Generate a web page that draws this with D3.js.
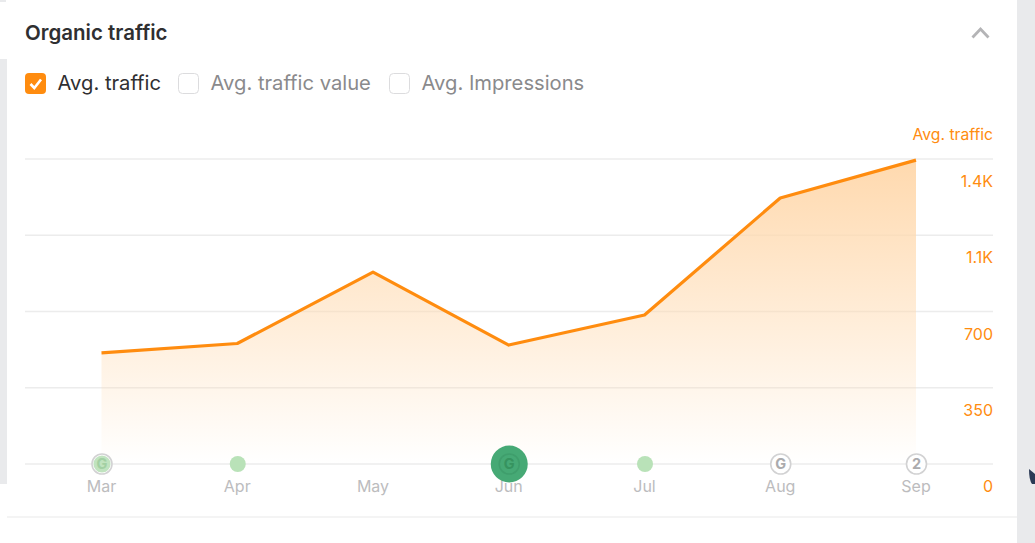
<!DOCTYPE html>
<html>
<head>
<meta charset="utf-8">
<style>
  html, body { margin: 0; padding: 0; background: #fff; }
  svg { display: block; }
  text { font-family: Inter, "Noto Sans", sans-serif; }
</style>
<script src="https://cdn.jsdelivr.net/npm/d3@7"></script>
</head>
<body>
<svg id="chart" width="1035" height="543"></svg>
<script>
// Monthly average organic traffic
const months = ["Mar", "Apr", "May", "Jun", "Jul", "Aug", "Sep"];
const avgTraffic = [510, 553, 881, 546, 684, 1221, 1395];
const tickValues = [0, 350, 700, 1050, 1400];
const tickLabels = ["0", "350", "700", "1.1K", "1.4K"];
const seriesOptions = ["Avg. traffic", "Avg. traffic value", "Avg. Impressions"];
const seriesChecked = [true, false, false];
const optionX = [25, 178, 389];
// Algorithm-update markers along the baseline
const markerKinds = ["ringG", "dot", null, "bigG", "dot", "outlineG", "outline2"];

const ORANGE = "#ff8c0f";
const svg = d3.select("#chart");

// Page chrome around the card
svg.append("rect").attr("x", 0).attr("y", 59).attr("width", 7).attr("height", 425).attr("fill", "#e9eaec");
svg.append("rect").attr("x", 0).attr("y", 0).attr("width", 6).attr("height", 2).attr("fill", "#e9eaec");
svg.append("rect").attr("x", 1017).attr("y", 0).attr("width", 18).attr("height", 543).attr("fill", "#e9eaec");
svg.append("path").attr("d", "M1029 469 L1035 474 V484 H1032 Q1029 480 1029 469 Z").attr("fill", "#2b3a55");
svg.append("line").attr("x1", 7).attr("x2", 1017).attr("y1", 517).attr("y2", 517)
  .attr("stroke", "#f0f0f1").attr("stroke-width", 1.5);

// Header
svg.append("text").attr("x", 25).attr("y", 39.5).attr("font-size", 20.5).attr("font-weight", 600)
  .attr("fill", "#2f2f31").text("Organic traffic");
svg.append("path").attr("d", "M972.5 37.5 L980.5 29 L988.5 37.5").attr("fill", "none")
  .attr("stroke", "#b4b4b6").attr("stroke-width", 2.8);

// Series toggles
const opts = svg.selectAll("g.opt").data(seriesOptions).join("g").attr("class", "opt")
  .attr("transform", (d, i) => `translate(${optionX[i]},73)`);
opts.append("rect").attr("x", (d, i) => i ? 0.5 : 0).attr("y", (d, i) => i ? 0.5 : 0)
  .attr("width", (d, i) => i ? 20 : 21).attr("height", (d, i) => i ? 20 : 21).attr("rx", 4)
  .attr("fill", (d, i) => seriesChecked[i] ? ORANGE : "#fff")
  .attr("stroke", (d, i) => seriesChecked[i] ? "none" : "#dcdcde");
opts.filter((d, i) => seriesChecked[i]).append("path")
  .attr("d", "M5.5 11 L9.3 15 L16 6.5").attr("fill", "none").attr("stroke", "#fff").attr("stroke-width", 2.6);
opts.append("text").attr("x", 32.5).attr("y", 17).attr("font-size", 20.2)
  .attr("fill", (d, i) => seriesChecked[i] ? "#2f2f31" : "#8a8a8c").text(d => d);

// Scales
const x = d3.scalePoint().domain(months).range([101.5, 916]);
const y = d3.scaleLinear().domain([0, 1400]).range([464, 159]);

// Area gradient
const defs = svg.append("defs");
const grad = defs.append("linearGradient").attr("id", "fade").attr("gradientUnits", "userSpaceOnUse")
  .attr("x1", 0).attr("x2", 0).attr("y1", y(1400)).attr("y2", y(0));
grad.append("stop").attr("offset", 0).attr("stop-color", "#ffd9ae");
grad.append("stop").attr("offset", 1).attr("stop-color", "#ffd9ae").attr("stop-opacity", 0);

// Grid lines
svg.selectAll("line.grid").data(tickValues).join("line").attr("class", "grid")
  .attr("x1", 25).attr("x2", 993).attr("y1", d => y(d)).attr("y2", d => y(d))
  .attr("stroke", "#ececec").attr("stroke-width", 1.5);

// Area and line
const points = months.map((m, i) => [m, avgTraffic[i]]);
svg.append("path").datum(points).attr("fill", "url(#fade)")
  .attr("d", d3.area().x(d => x(d[0])).y0(y(0)).y1(d => y(d[1])));
svg.append("path").datum(points).attr("fill", "none").attr("stroke", ORANGE).attr("stroke-width", 3.2)
  .attr("stroke-linejoin", "round")
  .attr("d", d3.line().x(d => x(d[0])).y(d => y(d[1])));

// Right-hand axis
svg.append("text").attr("x", 993).attr("y", 139.5).attr("text-anchor", "end").attr("font-size", 15.7)
  .attr("fill", ORANGE).text("Avg. traffic");
svg.selectAll("text.ytick").data(tickValues).join("text").attr("class", "ytick")
  .attr("x", 993).attr("y", d => y(d) + 28).attr("text-anchor", "end").attr("font-size", 16)
  .attr("fill", ORANGE).text((d, i) => tickLabels[i]);

// Month labels
svg.selectAll("text.xtick").data(months).join("text").attr("class", "xtick")
  .attr("x", d => x(d)).attr("y", 491.5).attr("text-anchor", "middle").attr("font-size", 16)
  .attr("fill", "#bcbcbe").text(d => d);

// Baseline markers
const markers = svg.selectAll("g.marker").data(months.map((m, i) => [m, markerKinds[i]]).filter(d => d[1]))
  .join("g").attr("class", "marker").attr("transform", d => `translate(${x(d[0]) + 0.5},${y(0)})`);
const glyph = (sel, text, fill, size) => sel.append("text").attr("text-anchor", "middle")
  .attr("y", size * 0.36).attr("font-size", size).attr("font-weight", 700).attr("fill", fill).text(text);

markers.filter(d => d[1] === "dot").append("circle").attr("r", 8).attr("fill", "#b9e2b8");

const outlined = markers.filter(d => ["ringG", "outlineG", "outline2"].includes(d[1]));
outlined.append("circle").attr("r", 10).attr("fill", "#fff").attr("stroke", "#d2d2d3").attr("stroke-width", 1.6);
outlined.filter(d => d[1] === "ringG").append("circle").attr("r", 8.6).attr("fill", "#c0e3bf");
glyph(outlined.filter(d => d[1] === "ringG"), "G", "#a3d0a3", 14.5);
glyph(outlined.filter(d => d[1] === "outlineG"), "G", "#ababad", 14.5);
glyph(outlined.filter(d => d[1] === "outline2"), "2", "#ababad", 14.5);

const big = markers.filter(d => d[1] === "bigG");
big.append("circle").attr("r", 18.5).attr("fill", "#46a975");
big.append("circle").attr("r", 10).attr("fill", "none").attr("stroke", "#3f9e6c").attr("stroke-width", 1.6);
glyph(big, "G", "#36935f", 14.5);
</script>
</body>
</html>
